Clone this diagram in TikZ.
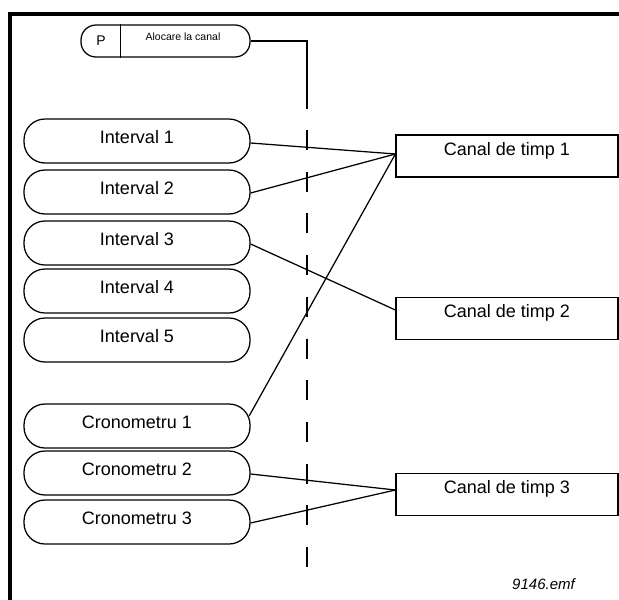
\documentclass[tikz,border=0pt]{standalone}
\usepackage{fontspec}
\setmainfont{Liberation Sans}
\begin{document}
\begin{tikzpicture}[x=1pt,y=-1pt,
  line width=1.25pt,
  frameline/.style={line width=3.3pt},
  slot/.style={draw, rounded corners=21pt, minimum width=226pt, minimum height=44pt,
    inner sep=0pt, font=\fontsize{18}{20}\selectfont, text height=13pt, text depth=9pt},
  chan/.style={draw, rectangle, minimum width=222pt, minimum height=42pt,
    inner sep=0pt, font=\fontsize{18}{20}\selectfont, text height=13pt, text depth=15pt},
  pbox/.style={draw, rounded corners=15pt, minimum width=169pt, minimum height=32pt, inner sep=0pt},
  link/.style={line width=1.25pt},
  guide/.style={line width=1.25pt, dash pattern=on 20pt off 21.7pt}
]
\useasboundingbox (0,0) rectangle (619,600);

% frame
\draw[frameline] (10,600) -- (10,14) -- (619,14);

% parameter box
\node[pbox] (p) at (165.5,41) {};
\draw ([xshift=40pt]p.north west) -- ([xshift=40pt]p.south west);
\node[font=\fontsize{14}{16}\selectfont] (pl) at (101,41) {P};
\node[font=\fontsize{10.5}{12}\selectfont] (pt) at (183,37) {Alocare la canal};

% guide line
\coordinate (gtop) at (307,109);
\coordinate (gs) at (307,130);
\coordinate (ge) at (307,567);
\draw[link] (p.east) -| (gtop);
\draw[guide] (gs) -- (ge);

% intervals
\node[slot] (i1) at (137,141) {Interval 1};
\node[slot] (i2) at (137,192) {Interval 2};
\node[slot] (i3) at (137,243) {Interval 3};
\node[slot] (i4) at (137,291) {Interval 4};
\node[slot] (i5) at (137,340) {Interval 5};
\node[slot] (c1) at (137,426) {Cronometru 1};
\node[slot] (c2) at (137,473) {Cronometru 2};
\node[slot] (c3) at (137,522) {Cronometru 3};

% channels
\node[chan] (t1) at (507,156) {Canal de timp 1};
\node[chan] (t2) at (507,318.5) {Canal de timp 2};
\node[chan] (t3) at (507,494.5) {Canal de timp 3};

% connectors
\draw[link] ([yshift=-2pt]i1.east) -- ([yshift=2pt]t1.west);
\draw[link] ([yshift=-1pt]i2.east) -- ([yshift=2pt]t1.west);
\draw[link] ([yshift=-1pt]i3.east) -- ([yshift=8.5pt]t2.west);
\draw[link] ([xshift=-1.5pt,yshift=10pt]c1.east) -- ([yshift=2pt]t1.west);
\draw[link] ([yshift=-1pt]c2.east) -- ([yshift=4.5pt]t3.west);
\draw[link] ([yshift=-1pt]c3.east) -- ([yshift=4.5pt]t3.west);

% file tag
\node[font=\fontsize{15}{17}\selectfont\itshape] (tag) at (543.5,584) {9146.emf};
\end{tikzpicture}
\end{document}
